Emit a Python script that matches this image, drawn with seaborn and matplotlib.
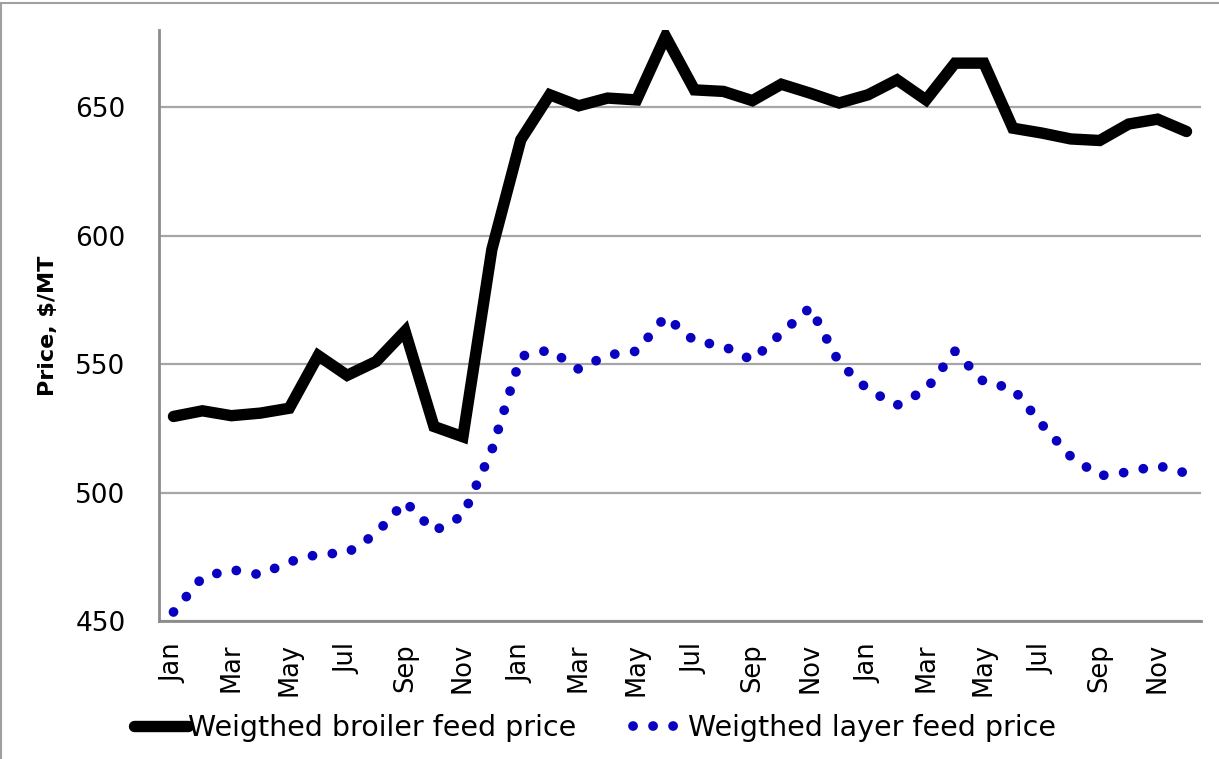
import matplotlib
matplotlib.use("Agg")
import matplotlib.pyplot as plt
from matplotlib.patches import Rectangle
from matplotlib.ticker import FixedLocator, NullFormatter
import seaborn as sns
import numpy as np

# monthly data, three years Jan..Dec
month_names = ['Jan', 'Feb', 'Mar', 'Apr', 'May', 'Jun',
               'Jul', 'Aug', 'Sep', 'Oct', 'Nov', 'Dec'] * 3

broiler = [529.6, 531.8, 529.9, 530.9, 532.8, 553.3, 545.6, 551.0, 562.8, 525.7, 521.7, 594.6,
           637.3, 654.8, 650.5, 653.5, 652.8, 677.5, 656.7, 656.1, 652.5, 658.9, 655.4, 651.6,
           654.8, 660.6, 652.8, 667.1, 667.1, 641.8, 639.9, 637.6, 637.0, 643.4, 645.3, 640.5]

layer = [453.5, 467.0, 470.0, 468.0, 473.0, 476.0, 476.5, 484.0, 496.5, 485.0, 491.0, 516.5,
         553.0, 555.5, 548.0, 553.5, 555.0, 568.5, 559.0, 557.0, 551.5, 562.0, 572.0, 550.5,
         540.0, 534.0, 540.0, 555.0, 543.0, 540.5, 526.5, 514.0, 506.5, 508.0, 510.5, 507.5]

y_ticks = [450, 500, 550, 600, 650]

sns.set_style('white')
plt.rcParams['font.family'] = ['DejaVu Sans']
plt.rcParams['text.color'] = 'black'
plt.rcParams['axes.labelcolor'] = 'black'
plt.rcParams['xtick.labelcolor'] = 'black'
plt.rcParams['ytick.labelcolor'] = 'black'

grid_col = '#a6a6a6'
axis_col = '#8c8c8c'
blue = '#0a00bf'

fig = plt.figure(figsize=(12.19, 7.59), dpi=100)
ax = fig.add_axes([159 / 1219, 1 - 621 / 759, 1042 / 1219, 591 / 759])

x = np.arange(len(broiler))
sns.lineplot(x=x, y=broiler, ax=ax, color='black', linewidth=8.2,
             solid_capstyle='round', solid_joinstyle='miter',
             label='Weigthed broiler feed price')
sns.lineplot(x=x, y=layer, ax=ax, color=blue, linewidth=7,
             dashes=False, label='Weigthed layer feed price')
# round dotted style for the layer line
ln = ax.get_lines()[-1]
ln.set_linestyle((0, (0.01, 2.05)))
ln.set_dash_capstyle('round')

ax.set_xlim(-0.5, len(broiler) - 0.5)
ax.set_ylim(450, 680)
ax.set_yticks(y_ticks)
ax.yaxis.grid(True, color=grid_col, linewidth=1.6)
ax.set_axisbelow(True)

# labels every other month, tick marks on category boundaries
ax.set_xticks(x[::2])
ax.set_xticklabels(month_names[::2], rotation=90, fontsize=18.5)
ax.xaxis.set_minor_locator(FixedLocator(np.arange(-0.5, len(broiler), 1.0)))
ax.xaxis.set_minor_formatter(NullFormatter())
ax.tick_params(axis='x', which='major', length=0, pad=16)
ax.tick_params(axis='x', which='minor', length=7, width=1.4, color=axis_col, direction='out')
ax.tick_params(axis='y', length=8, width=1.4, color=axis_col, direction='out',
               labelsize=19, pad=16)

for side in ['top', 'right']:
    ax.spines[side].set_visible(False)
for side in ['left', 'bottom']:
    ax.spines[side].set_color(axis_col)
    ax.spines[side].set_linewidth(2)

ax.set_ylabel('Price, $/MT', fontsize=16, fontweight='bold')
ax.yaxis.set_label_coords(-0.097, 0.5)

ax.get_legend().remove()
handles, labels = ax.get_legend_handles_labels()
fig.legend(handles, labels, loc='center', bbox_to_anchor=(0.488, 0.041), ncol=2,
           frameon=False, fontsize=20.5, handlelength=1.9, handletextpad=0.02,
           columnspacing=2.0)

# thin chart-area border
fig.patches.append(Rectangle((0.001, -0.01), 1.02, 1.006, transform=fig.transFigure,
                             fill=False, edgecolor='#a0a0a0', linewidth=1.5))

plt.savefig('out.png', dpi=100)
